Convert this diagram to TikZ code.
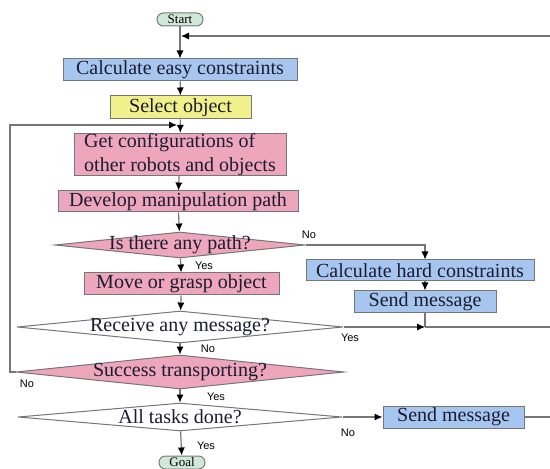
\documentclass[tikz,border=0pt]{standalone}
\usepackage{fontspec}
\setmainfont{Liberation Serif}
\newfontfamily\labelfont{Liberation Sans}
\usetikzlibrary{shapes.geometric,arrows.meta}

\definecolor{boxblue}{RGB}{166,198,240}
\definecolor{boxpink}{RGB}{238,166,188}
\definecolor{boxyellow}{RGB}{240,240,140}
\definecolor{boxgreen}{RGB}{208,232,216}
\definecolor{linegray}{RGB}{118,118,118}
\definecolor{textnavy}{RGB}{28,28,48}

\tikzset{
 flow/.style={draw=linegray, line width=0.6pt, -{Latex[black,length=4pt,width=3.6pt]}},
 wire/.style={draw=linegray, line width=0.6pt},
 box/.style={rectangle, draw=linegray, line width=0.5pt, inner sep=0pt, text=textnavy,
   font=\fontsize{10}{12}\selectfont},
 bluebox/.style={box, fill=boxblue},
 pinkbox/.style={box, fill=boxpink},
 yellowbox/.style={box, fill=boxyellow},
 decision/.style={diamond, aspect=1, draw=linegray, line width=0.5pt, inner sep=0pt,
   text=textnavy, font=\fontsize{10}{12}\selectfont},
 terminal/.style={rectangle, rounded corners=3.2pt, draw=linegray, line width=0.5pt,
   fill=boxgreen, inner sep=0pt, minimum width=23pt, minimum height=6.5pt,
   font=\fontsize{6.5}{7}\selectfont},
 yesno/.style={inner sep=0pt, font=\labelfont\fontsize{5.5}{6}\selectfont},
}

\begin{document}
\begin{tikzpicture}[x=0.5pt,y=-0.5pt]
\useasboundingbox (0,0) rectangle (550,469);

% main column
\node[terminal] (start) at (180,19.5) {Start};
\node[bluebox, minimum width=117pt, minimum height=11pt] (easy) at (180,70) {Calculate easy constraints};
\node[yellowbox, minimum width=70.5pt, minimum height=11.5pt] (select) at (180.5,107.5) {Select object};
\node[pinkbox, minimum width=106pt, minimum height=20.5pt, align=left] (config) at (180,154.5) {Get configurations of\\other robots and objects};
\node[pinkbox, minimum width=120pt, minimum height=10.5pt] (develop) at (178,201.5) {Develop manipulation path};
\node[decision, fill=boxpink, minimum width=125pt, minimum height=13pt] (anypath) at (180,245) {\makebox[0pt]{Is there any path?}};
\node[pinkbox, minimum width=97.5pt, minimum height=11pt] (move) at (181.5,284) {Move or grasp object};
\node[decision, fill=white, minimum width=163pt, minimum height=16pt] (receive) at (180,327) {\makebox[0pt]{Receive any message?}};
\node[decision, fill=boxpink, minimum width=164pt, minimum height=17pt] (success) at (180,372) {\makebox[0pt]{Success transporting?}};
\node[decision, fill=white, minimum width=162pt, minimum height=14pt] (alldone) at (180,417) {\makebox[0pt]{All tasks done?}};
\node[terminal] (goal) at (182,462.5) {Goal};

% right column
\node[bluebox, minimum width=114pt, minimum height=10.5pt] (hard) at (420,270.5) {Calculate hard constraints};
\node[bluebox, minimum width=71pt, minimum height=11pt] (sendA) at (425,302) {Send message};
\node[bluebox, minimum width=70.5pt, minimum height=11pt] (sendB) at (453.5,417) {Send message};

% joints and free ends
\coordinate (topin) at (181,36);
\coordinate (topend) at (550,36);
\coordinate (leftin) at (177,125);
\coordinate (msgjoin) at (425,327);
\coordinate (msgend) at (550,327);
\coordinate (doneend) at (550,417);

% arrows down the main column
\draw[flow] (start) -- (easy);
\draw[flow] (easy) -- (select);
\draw[flow] (select) -- (config);
\draw[flow] (config) -- (develop);
\draw[flow] (develop) -- (anypath);
\draw[flow] (anypath) -- (move);
\draw[flow] (move) -- (receive);
\draw[flow] (receive) -- (success);
\draw[flow] (success) -- (alldone);
\draw[flow] (alldone) -- (goal);

% branches
\draw[flow] (anypath.east) -| ([xshift=2.5pt]hard.north);
\draw[flow] ([xshift=2.5pt]hard.south) -- (sendA.north);
\draw[wire] (sendA.south) -- (msgjoin);
\draw[flow] (receive.east) -- (msgjoin);
\draw[wire] (msgjoin) -- (msgend);
\draw[flow] (topend) -- (topin);
\draw[flow] (success.west) -- (10,372) -- (10,125) -- (leftin);
\draw[flow] (alldone.east) -- (sendB.west);
\draw[wire] (sendB.east) -- (doneend);

% yes / no
\node[yesno] (noA) at (309,235) {No};
\node[yesno] (yesA) at (204,266) {Yes};
\node[yesno] (yesB) at (350,338) {Yes};
\node[yesno] (noB) at (208,349) {No};
\node[yesno] (noC) at (27,384) {No};
\node[yesno] (yesC) at (216,397) {Yes};
\node[yesno] (noD) at (348,433) {No};
\node[yesno] (yesD) at (206,446) {Yes};
\end{tikzpicture}
\end{document}
